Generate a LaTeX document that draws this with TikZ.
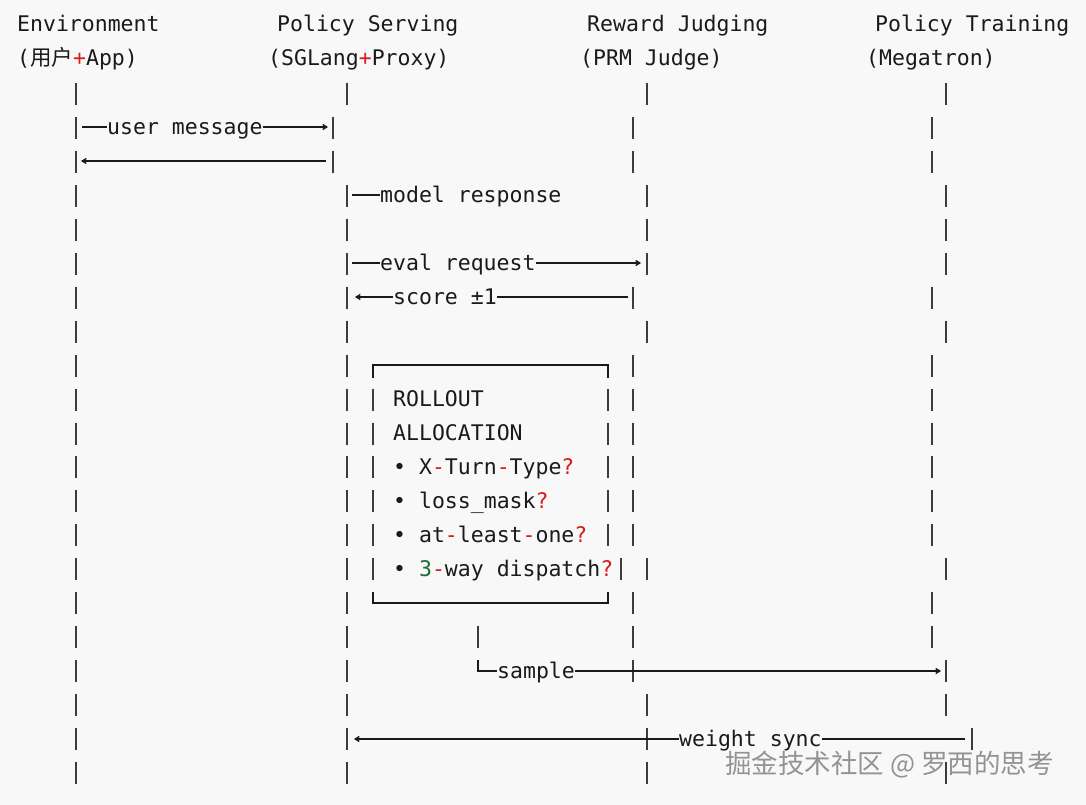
\documentclass[tikz,border=0pt]{standalone}
\usepackage{fontspec}
\setmainfont{DejaVu Sans Mono}
\newfontfamily\cjk{Noto Sans CJK SC}
\usetikzlibrary{arrows.meta}
\definecolor{ink}{HTML}{1A1A1A}
\definecolor{qred}{HTML}{D81B1B}
\definecolor{qgreen}{HTML}{1E6B3A}
\definecolor{bg}{HTML}{F8F8F8}
\begin{document}
\begin{tikzpicture}[x=1pt,y=-1pt,
  t/.style={anchor=mid west,inner sep=0pt,text=ink,font=\fontsize{21.5}{24}\selectfont,yshift=-5pt},
  bar/.style={draw=ink!85,line width=1.3pt},
  ln/.style={draw=ink,line width=1.4pt},
  arr/.style={ln,-{Straight Barb[length=4pt,width=5pt]}}]
\fill[bg] (0,0) rectangle (1086,805);
\useasboundingbox (0,0) rectangle (1086,805);
% headers
\node[t] (h1) at (17,24) {Environment};
\node[t] (h1b) at (17,58) {({\cjk 用户}\textcolor{qred}{+}App)};
\node[t] (h2) at (277,24) {Policy Serving};
\node[t] (h2b) at (268,58) {(SGLang\textcolor{qred}{+}Proxy)};
\node[t] (h3) at (587,24) {Reward Judging};
\node[t] (h3b) at (580,58) {(PRM Judge)};
\node[t] (h4) at (875,24) {Policy Training};
\node[t] (h4b) at (866,58) {(Megatron)};
% vertical bars
\foreach \r in {0,...,20} { \draw[bar] (76,{94+\r*33.95-11}) -- ++(0,22); }
\foreach \r/\x in {0/347,1/333,2/333,3/347,4/347,5/347,6/347,7/347,8/347,9/347,10/347,11/347,12/347,13/347,14/347,15/347,16/347,17/347,18/347,19/347,20/347}
  { \draw[bar] (\x,{94+\r*33.95-11}) -- ++(0,22); }
\foreach \r/\x in {0/647,1/633,2/633,3/647,4/647,5/647,6/633,7/647,8/633,9/633,10/633,11/633,12/633,13/633,14/647,15/633,16/633,17/633,18/647,19/647,20/647}
  { \draw[bar] (\x,{94+\r*33.95-11}) -- ++(0,22); }
\foreach \r/\x in {0/946,1/932,2/932,3/946,4/946,5/946,6/932,7/946,8/932,9/932,10/932,11/932,12/932,13/932,14/946,15/932,16/932,17/946,18/946,19/972,20/946}
  { \draw[bar] (\x,{94+\r*33.95-11}) -- ++(0,22); }
% user message
\node[t] (um) at (107,127) {user message};
\coordinate (um1) at (82,127); \coordinate (um2) at (328,127);
\draw[ln] (um1) -- (um1 -| um.west);
\draw[arr] (um2 -| um.east) -- (um2);
\coordinate (rt1) at (326,161); \coordinate (rt2) at (81,161);
\draw[arr] (rt1) -- (rt2);
% model response
\node[t] (mr) at (380,195) {model response};
\coordinate (mr1) at (352,195);
\draw[ln] (mr1) -- (mr1 -| mr.west);
% eval request
\node[t] (er) at (380,263) {eval request};
\coordinate (er1) at (352,263); \coordinate (er2) at (641,263);
\draw[ln] (er1) -- (er1 -| er.west);
\draw[arr] (er2 -| er.east) -- (er2);
% score
\node[t] (sc) at (393,297) {score ±1};
\coordinate (sc1) at (628,297); \coordinate (sc2) at (355,297);
\draw[ln] (sc1) -- (sc1 -| sc.east);
\draw[arr] (sc2 -| sc.west) -- (sc2);
% rollout box
\coordinate (b1) at (373,378); \coordinate (b2) at (373,365); \coordinate (b3) at (608,365); \coordinate (b4) at (608,378);
\draw[ln,line width=1.3pt] (b1) -- (b2) -- (b3) -- (b4);
\coordinate (c1) at (373,592); \coordinate (c2) at (373,603); \coordinate (c3) at (608,603); \coordinate (c4) at (608,592);
\draw[ln,line width=1.3pt] (c1) -- (c2) -- (c3) -- (c4);
\foreach \r in {9,...,14} { \draw[bar] (373,{94+\r*33.95-11}) -- ++(0,22); }
\foreach \r in {9,...,13} { \draw[bar] (608,{94+\r*33.95-11}) -- ++(0,22); }
\draw[bar] (621,{94+14*33.95-11}) -- ++(0,22);
\node[t] (ro) at (393,399) {ROLLOUT};
\node[t] (al) at (393,433) {ALLOCATION};
\node[t] (i1) at (393,467) {• X\textcolor{qred}{-}Turn\textcolor{qred}{-}Type\textcolor{qred}{?}};
\node[t] (i2) at (393,501) {• loss\_mask\textcolor{qred}{?}};
\node[t] (i3) at (393,535) {• at\textcolor{qred}{-}least\textcolor{qred}{-}one\textcolor{qred}{?}};
\node[t] (i4) at (393,569) {• \textcolor{qgreen}{3}\textcolor{qred}{-}way dispatch\textcolor{qred}{?}};
% sample
\draw[bar] (478,626) -- (478,648);
\node[t] (sa) at (497,671) {sample};
\coordinate (s1) at (478,660); \coordinate (s2) at (478,671); \coordinate (s3) at (941,671);
\draw[ln,line width=1.3pt] (s1) -- (s2) -- (s2 -| sa.west);
\draw[arr] (s3 -| sa.east) -- (s3);
% weight sync
\node[t] (ws) at (679,739) {weight sync};
\coordinate (w1) at (965,739); \coordinate (w2) at (354,739);
\draw[ln] (w1) -- (w1 -| ws.east);
\draw[arr] (w2 -| ws.west) -- (w2);
% watermark
\node[anchor=mid west,inner sep=0pt,text=gray!85,font=\cjk\fontsize{26.5}{28}\selectfont] (wm) at (725,771) {掘金技术社区 @ 罗西的思考};
\end{tikzpicture}
\end{document}
